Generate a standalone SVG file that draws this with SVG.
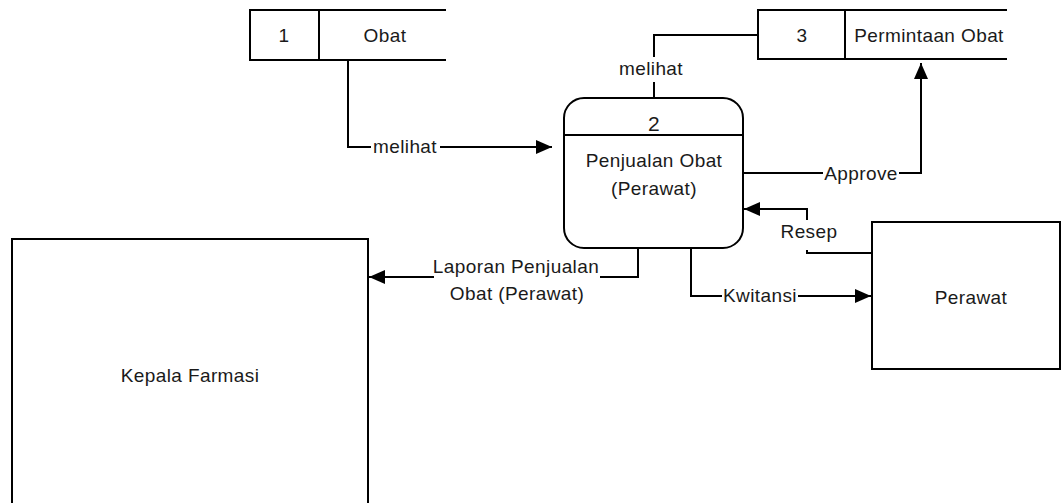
<svg xmlns="http://www.w3.org/2000/svg" width="1061" height="503" viewBox="0 0 1061 503">
<style>
  .s{fill:none;stroke:#000;stroke-width:2}
  .b{fill:#fff;stroke:#000;stroke-width:2}
  text{font-family:"Liberation Sans",Arial,sans-serif;font-size:19px;fill:#1a1a1a;text-anchor:middle;letter-spacing:0.4px}
  .bg{fill:#fff;stroke:none}
</style>
<defs>
  <marker id="arr" markerUnits="userSpaceOnUse" markerWidth="16" markerHeight="14" refX="16" refY="7" orient="auto">
    <path d="M0,0 L16,7 L0,14 Z" fill="#000"/>
  </marker>
</defs>
<rect width="1061" height="503" fill="#fff"/>
<g id="connectors">
  <path class="s" d="M348,60 V147 H552" marker-end="url(#arr)"/>
  <path class="s" d="M654,98 V35 H758"/>
  <path class="s" d="M743,173 H921 V63" marker-end="url(#arr)"/>
  <path class="s" d="M872,253 H807 V209 H744" marker-end="url(#arr)"/>
  <path class="s" d="M691,248 V296 H871" marker-end="url(#arr)"/>
  <path class="s" d="M638,248 V277 H369" marker-end="url(#arr)"/>
  <rect class="bg" x="371" y="137" width="69" height="22"/>
  <text x="405" y="153">melihat</text>
  <rect class="bg" x="616" y="57" width="70" height="25"/>
  <text x="651" y="75">melihat</text>
  <rect class="bg" x="823" y="162" width="76" height="24"/>
  <text x="861" y="180">Approve</text>
  <rect class="bg" x="780" y="220" width="58" height="30"/>
  <text x="809" y="238">Resep</text>
  <rect class="bg" x="722" y="285" width="76" height="22"/>
  <text x="760" y="302">Kwitansi</text>
  <rect class="bg" x="434" y="255" width="166" height="50"/>
  <text x="516" y="273">Laporan Penjualan</text>
  <text x="517" y="300">Obat (Perawat)</text>
</g>
<g id="ds1">
  <rect class="b" x="250" y="10" width="69" height="50"/>
  <path class="s" d="M319,10 H446 M319,60 H446"/>
  <text x="284" y="42">1</text>
  <text x="385" y="42">Obat</text>
</g>
<g id="ds3">
  <rect class="b" x="758" y="10" width="87" height="49"/>
  <path class="s" d="M845,10 H1007 M845,59 H1007"/>
  <text x="802" y="42">3</text>
  <text x="929" y="42">Permintaan Obat</text>
</g>
<g id="p2">
  <rect class="b" x="564" y="98" width="179" height="150" rx="20" ry="20"/>
  <path class="s" d="M564,135 H743"/>
  <text x="654" y="131" style="font-size:21px">2</text>
  <text x="654" y="167">Penjualan Obat</text>
  <text x="654" y="195">(Perawat)</text>
</g>
<g id="perawat">
  <rect class="b" x="872" y="222" width="188" height="147"/>
  <text x="971" y="304">Perawat</text>
</g>
<g id="kepala">
  <rect class="b" x="12" y="239" width="356" height="290"/>
  <text x="190" y="382">Kepala Farmasi</text>
</g>
</svg>
